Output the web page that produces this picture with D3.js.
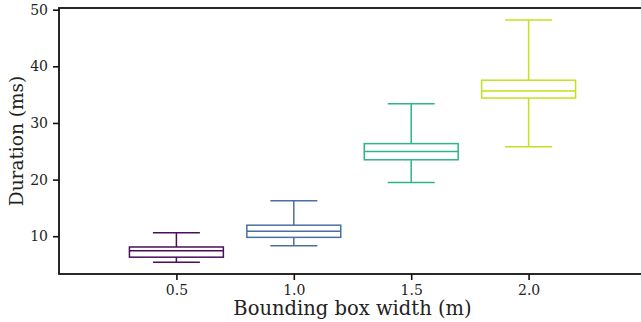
<!DOCTYPE html>
<html><head><meta charset="utf-8">
<script src="https://cdn.jsdelivr.net/npm/d3@7"></script>
<style>body{margin:0;background:#fff}svg{display:block}text{font-family:"DejaVu Serif","Liberation Serif",serif;fill:#222}</style>
</head><body><svg id="c" width="641" height="322"></svg>
<script>
const categories = ["0.5","1.0","1.5","2.0"];
const xValues = [0.5, 1.0, 1.5, 2.0];
const whiskerLow = [5.4, 8.3, 19.5, 25.8];
const q1 = [6.3, 9.8, 23.5, 34.4];
const median = [7.45, 10.9, 24.95, 35.65];
const q3 = [8.1, 11.95, 26.35, 37.55];
const whiskerHigh = [10.6, 16.25, 33.4, 48.2];
const colors = ["#4c0d5c", "#4a70a0", "#2db48a", "#c2e21e"];
const yTicks = [10, 20, 30, 40, 50];

const svg = d3.select("#c");
const m = {l:59, t:8, r:646, b:274};
const x = d3.scaleLinear().domain([0, 2.5]).range([m.l, m.r]);
const y = d3.scaleLinear().domain([3.33, 50.3]).range([m.b, m.t]);
const boxW = x(0.4) - x(0);
const capW = boxW / 2;

const g = svg.append("g");
xValues.forEach((v, i) => {
  const cx = x(v), c = colors[i];
  const gg = g.append("g").attr("stroke", c).attr("stroke-width", 1.5).attr("fill", "none");
  gg.append("line").attr("x1", cx).attr("x2", cx).attr("y1", y(q3[i])).attr("y2", y(whiskerHigh[i]));
  gg.append("line").attr("x1", cx).attr("x2", cx).attr("y1", y(q1[i])).attr("y2", y(whiskerLow[i]));
  gg.append("line").attr("x1", cx - capW/2).attr("x2", cx + capW/2).attr("y1", y(whiskerHigh[i])).attr("y2", y(whiskerHigh[i]));
  gg.append("line").attr("x1", cx - capW/2).attr("x2", cx + capW/2).attr("y1", y(whiskerLow[i])).attr("y2", y(whiskerLow[i]));
  gg.append("rect").attr("x", cx - boxW/2).attr("width", boxW).attr("y", y(q3[i])).attr("height", y(q1[i]) - y(q3[i]));
  gg.append("line").attr("x1", cx - boxW/2).attr("x2", cx + boxW/2).attr("y1", y(median[i])).attr("y2", y(median[i]));
});

// axes
const xAxis = d3.axisBottom(x).tickValues(xValues).tickFormat((d,i)=>categories[i]).tickSize(6).tickPadding(5);
const yAxis = d3.axisLeft(y).tickValues(yTicks).tickFormat(d3.format("d")).tickSize(6).tickPadding(5);
const gx = svg.append("g").attr("transform", `translate(0,${m.b})`).call(xAxis);
const gy = svg.append("g").attr("transform", `translate(${m.l},0)`).call(yAxis);
[gx, gy].forEach(a => {
  a.select(".domain").remove();
  a.selectAll(".tick line").attr("stroke", "#111").attr("stroke-width", 1.6);
  a.selectAll(".tick text").style("font-size", "14px").attr("fill", "#222");
});
// spines
svg.append("rect").attr("x", m.l).attr("y", m.t).attr("width", m.r - m.l).attr("height", m.b - m.t)
  .attr("fill", "none").attr("stroke", "#111").attr("stroke-width", 1.8);

svg.append("text").attr("x", (x(0.5)+x(2.0))/2).attr("y", 315).attr("text-anchor", "middle")
  .style("font-size", "19.5px").text("Bounding box width (m)");
svg.append("text").attr("transform", `translate(23,${(m.t+m.b)/2}) rotate(-90)`).attr("text-anchor", "middle")
  .style("font-size", "18.5px").text("Duration (ms)");
</script></body></html>
